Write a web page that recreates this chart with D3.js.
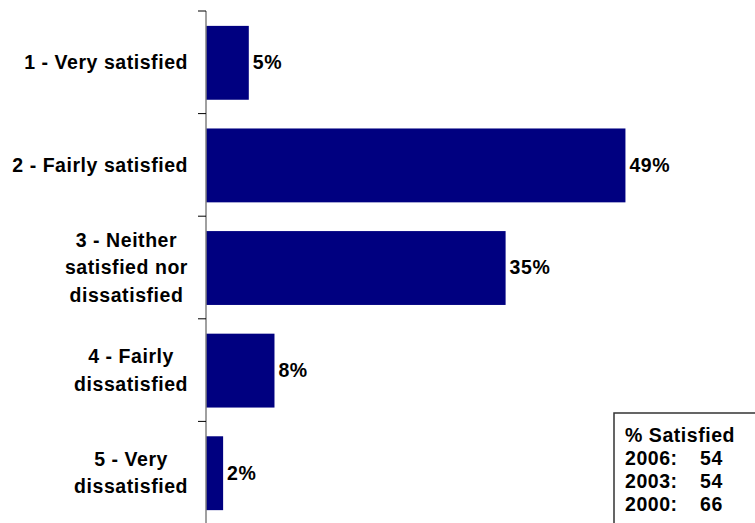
<!DOCTYPE html>
<html>
<head>
<meta charset="utf-8">
<script src="https://cdn.jsdelivr.net/npm/d3@7"></script>
<style>
  body { margin: 0; background: #fff; }
  svg { display: block; }
  text { font-family: "Liberation Sans", Arial, sans-serif; font-weight: bold; fill: #000; letter-spacing: 0.55px; }
</style>
</head>
<body>
<svg id="chart" width="755" height="523"></svg>
<script>
// Satisfaction categories (each entry is a list of label lines)
const categories = [
  ["1 - Very satisfied"],
  ["2 - Fairly satisfied"],
  ["3 - Neither", "satisfied nor", "dissatisfied"],
  ["4 - Fairly", "dissatisfied"],
  ["5 - Very", "dissatisfied"]
];
const values = [5, 49, 35, 8, 2];
const trendTitle = "% Satisfied";
const trendYears = ["2006:", "2003:", "2000:"];
const trendValues = [54, 54, 66];

const svg = d3.select("#chart");
const x0 = 206;
const fs = 19.5;

const x = d3.scaleLinear().domain([0, 100]).range([x0, x0 + 856]);
const y = d3.scaleBand().domain(d3.range(categories.length)).range([11, 524]).padding(0);
const bw = y.bandwidth();

// Bars
svg.selectAll("rect.bar").data(values).join("rect")
  .attr("class", "bar")
  .attr("x", x(0))
  .attr("y", (d, i) => y(i) + bw * 0.145)
  .attr("width", d => x(d) - x(0))
  .attr("height", bw * 0.72)
  .attr("fill", "#000080");

// Value labels
svg.selectAll("text.val").data(values).join("text")
  .attr("class", "val")
  .attr("x", d => x(d) + 4)
  .attr("y", (d, i) => y(i) + bw / 2)
  .attr("dy", "0.35em")
  .attr("font-size", fs)
  .text(d => d + "%");

// Category axis
const axis = svg.append("g").attr("transform", `translate(${x0},0)`);
axis.append("line")
  .attr("x1", 0).attr("x2", 0).attr("y1", 11).attr("y2", 523)
  .attr("stroke", "#808080").attr("stroke-width", 1.5);
axis.selectAll("line.tick").data(d3.range(categories.length)).join("line")
  .attr("class", "tick")
  .attr("x1", -8).attr("x2", 0)
  .attr("y1", i => y(i)).attr("y2", i => y(i))
  .attr("stroke", "#000").attr("stroke-width", 1);

// Category labels: centred lines, block right edge against the label area
const lineH = 27.5;
const labelRight = 188;
svg.selectAll("text.cat").data(categories).join("text")
  .attr("class", "cat")
  .attr("text-anchor", "middle")
  .attr("font-size", fs)
  .each(function(lines, i) {
    const t = d3.select(this);
    const cy = y(i) + bw / 2;
    const spans = lines.map((ln, k) => t.append("tspan")
        .attr("y", cy + (k - (lines.length - 1) / 2) * lineH)
        .attr("dy", "0.35em")
        .text(ln));
    const maxW = d3.max(spans, s => s.node().getComputedTextLength());
    spans.forEach(s => s.attr("x", labelRight - maxW / 2));
  });

// Trend box
const box = svg.append("g").attr("transform", "translate(614,413)");
box.append("rect")
  .attr("x", 0).attr("y", 0).attr("width", 160).attr("height", 140)
  .attr("fill", "#fff").attr("stroke", "#333").attr("stroke-width", 1.5);
box.append("text").attr("x", 11).attr("y", 29).attr("font-size", fs).text(trendTitle);
trendYears.forEach((yr, k) => {
  box.append("text").attr("x", 11).attr("y", 51.5 + k * 23).attr("font-size", fs).text(yr);
  box.append("text").attr("x", 86).attr("y", 51.5 + k * 23).attr("font-size", fs).text(trendValues[k]);
});
</script>
</body>
</html>
